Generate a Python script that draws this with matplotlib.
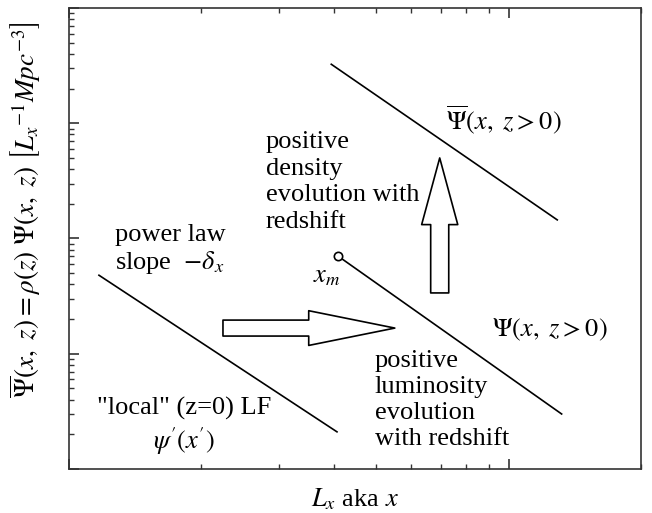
import numpy as np
import matplotlib
matplotlib.use("Agg")
import matplotlib.pyplot as plt
from matplotlib.ticker import LogLocator, NullFormatter

plt.rcParams["font.family"] = ["Liberation Serif", "DejaVu Serif"]
plt.rcParams["mathtext.fontset"] = "stix"

# schematic luminosity function lines (log-log units)
lf_x = [1.17, 4.07]        # local (z=0) LF
lf_y = [48.0, 2.1]
psi_x = [4.1, 13.2]        # luminosity-evolved LF, starts at x_m
psi_y = [70.0, 3.0]
psibar_x = [3.95, 12.9]    # density-evolved LF
psibar_y = [3250.0, 145.0]

# evolution arrows: (tail, tip)
lum_arrow_x = [2.24, 5.51]
lum_arrow_y = [16.7, 16.7]
dens_arrow_x = [6.97, 6.97]
dens_arrow_y = [33.7, 500.0]

XLIM = (1, 20)
YLIM = (1, 1e4)

fig = plt.figure(figsize=(6.52, 5.13), dpi=100)
ax = fig.add_axes([0.1058, 0.0858, 0.8773, 0.8986])
ax.set_xscale("log")
ax.set_yscale("log")
ax.set_xlim(*XLIM)
ax.set_ylim(*YLIM)

ax.plot(lf_x, lf_y, color="black", lw=1.2)
ax.plot(psi_x, psi_y, color="black", lw=1.2)
ax.plot(psi_x[0], psi_y[0], "o", ms=6, mfc="white", mec="black", mew=1.2)
ax.plot(psibar_x, psibar_y, color="black", lw=1.2)

arrow_kw = dict(arrowstyle="simple,head_length=62,head_width=25,tail_width=11.5",
                mutation_scale=1, fc="white", ec="black", lw=1.2,
                shrinkA=0, shrinkB=0)
ax.annotate("", xy=(lum_arrow_x[1], lum_arrow_y[1]),
            xytext=(lum_arrow_x[0], lum_arrow_y[0]), arrowprops=arrow_kw)
arrow_kw2 = dict(arrow_kw)
arrow_kw2["arrowstyle"] = "simple,head_length=48,head_width=26,tail_width=13"
ax.annotate("", xy=(dens_arrow_x[1], dens_arrow_y[1]),
            xytext=(dens_arrow_x[0], dens_arrow_y[0]), arrowprops=arrow_kw2)

fs = 19
ax.text(1.27, 79.5, "power law\nslope  $-\\delta_x$", fontsize=fs,
        ha="left", va="center", linespacing=1.12)
ax.text(1.83, 2.31, '"local" (z=0) LF\n$\\psi\'(x\')$', fontsize=fs,
        ha="center", va="center", linespacing=1.25)
ax.text(3.86, 46.3, "$x_m$", fontsize=fs, ha="center", va="center")
ax.text(2.80, 309, "positive\ndensity\nevolution with\nredshift", fontsize=fs,
        ha="left", va="center", linespacing=1.28)
ax.text(4.96, 3.97, "positive\nluminosity\nevolution\nwith redshift", fontsize=fs,
        ha="left", va="center", linespacing=1.22)
ax.text(9.15, 16.1, "$\\Psi(x,\\ z > 0)$", fontsize=fs, ha="left", va="center")
ax.text(7.2, 1067, "$\\overline{\\Psi}(x,\\ z > 0)$", fontsize=fs, ha="left", va="center")

ax.set_xlabel("$L_x$ aka $x$", fontsize=fs, labelpad=9)
ax.set_ylabel("$\\overline{\\Psi}(x,\\ z) = \\rho(z)\\ \\Psi(x,\\ z)\\ \\left[L_x{}^{-1}Mpc^{-3}\\right]$",
              fontsize=19.5)
ax.yaxis.set_label_coords(-0.045, 0.562)

ax.xaxis.set_major_locator(LogLocator(base=10, numticks=10))
ax.xaxis.set_minor_locator(LogLocator(base=10, subs=np.arange(2, 10), numticks=10))
ax.yaxis.set_major_locator(LogLocator(base=10, numticks=10))
ax.yaxis.set_minor_locator(LogLocator(base=10, subs=np.arange(2, 10), numticks=10))
ax.xaxis.set_major_formatter(NullFormatter())
ax.xaxis.set_minor_formatter(NullFormatter())
ax.yaxis.set_major_formatter(NullFormatter())
ax.yaxis.set_minor_formatter(NullFormatter())
ax.tick_params(axis="x", which="both", direction="in", top=True, bottom=True)
ax.tick_params(axis="y", which="both", direction="in", left=True, right=False)
ax.tick_params(which="major", length=7, width=1.2, color="#333333")
ax.tick_params(which="minor", length=3.5, width=1.0, color="#333333")
for s in ax.spines.values():
    s.set_color("#333333")
    s.set_linewidth(1.2)

fig.savefig("out.png", dpi=100)
